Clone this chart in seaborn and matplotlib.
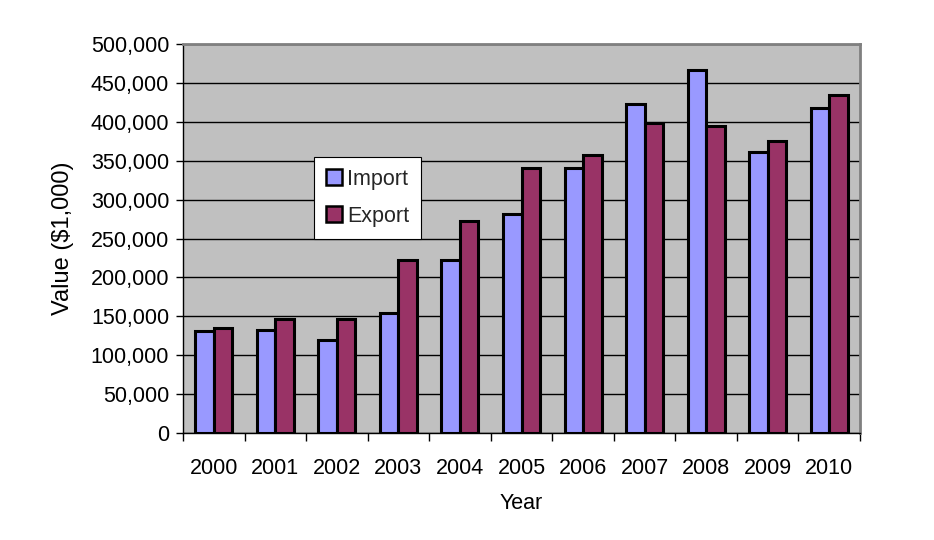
import matplotlib
matplotlib.use("Agg")
import matplotlib.pyplot as plt
import seaborn as sns
import pandas as pd
from matplotlib.ticker import FuncFormatter, FixedLocator

years = ["2000", "2001", "2002", "2003", "2004", "2005", "2006", "2007", "2008", "2009", "2010"]
imports = [131000, 132000, 119000, 154000, 222000, 282000, 340000, 423000, 466000, 361000, 418000]
exports = [135000, 147000, 147000, 222000, 273000, 340000, 357000, 398000, 394000, 375000, 434000]
series_names = ["Import", "Export"]
colors = ["#9999FF", "#993366"]

df = pd.DataFrame({
    "Year": years * 2,
    "Value": imports + exports,
    "Series": [series_names[0]] * len(years) + [series_names[1]] * len(years),
})

sns.set_theme(style="white")
plt.rcParams["font.family"] = ["Liberation Sans", "DejaVu Sans"]

FS = 15.5

fig = plt.figure(figsize=(9.34, 5.40), dpi=100)
ax = fig.add_axes([183 / 934, (540 - 433) / 540, (860 - 183) / 934, (433 - 44) / 540])

sns.barplot(data=df, x="Year", y="Value", hue="Series", palette=colors,
            width=0.6, edgecolor="black", linewidth=2.2, gap=0, ax=ax,
            saturation=1)

ax.set_facecolor("#C0C0C0")
ax.set_ylim(0, 500000)
ax.set_xlim(-0.5, len(years) - 0.5)
ax.set_yticks(range(0, 500001, 50000))
ax.yaxis.set_major_formatter(FuncFormatter(lambda v, p: f"{int(v):,}"))
ax.grid(axis="y", color="black", linewidth=1)
ax.set_axisbelow(True)

for s in ["top", "right"]:
    ax.spines[s].set_color("#808080")
    ax.spines[s].set_linewidth(2)
for s in ["left", "bottom"]:
    ax.spines[s].set_color("black")
    ax.spines[s].set_linewidth(1)

ax.tick_params(axis="y", which="major", direction="out", length=5, width=1,
               color="black", labelsize=FS, pad=5, left=True, labelcolor="black")
ax.xaxis.set_minor_locator(FixedLocator([i - 0.5 for i in range(len(years) + 1)]))
ax.tick_params(axis="x", which="minor", direction="out", length=6, width=1,
               color="black", bottom=True)
ax.tick_params(axis="x", which="major", length=0, labelsize=FS, pad=18,
               labelcolor="black")

ax.set_xlabel("Year", fontsize=FS, labelpad=10, color="black")
ax.set_ylabel("Value ($1,000)", fontsize=FS + 1.5, labelpad=12, color="black")

leg = ax.legend(loc="upper left", bbox_to_anchor=(0.193, 0.71), fontsize=FS,
                frameon=True, fancybox=False, edgecolor="black", facecolor="white",
                framealpha=1, handlelength=0.75, handleheight=0.75,
                handletextpad=0.25, borderpad=0.55, labelspacing=0.75,
                borderaxespad=0)
leg.get_frame().set_linewidth(0.8)
for h in leg.legend_handles:
    h.set_linewidth(1.8)
    h.set_edgecolor("black")

fig.savefig("out.png", dpi=100)
